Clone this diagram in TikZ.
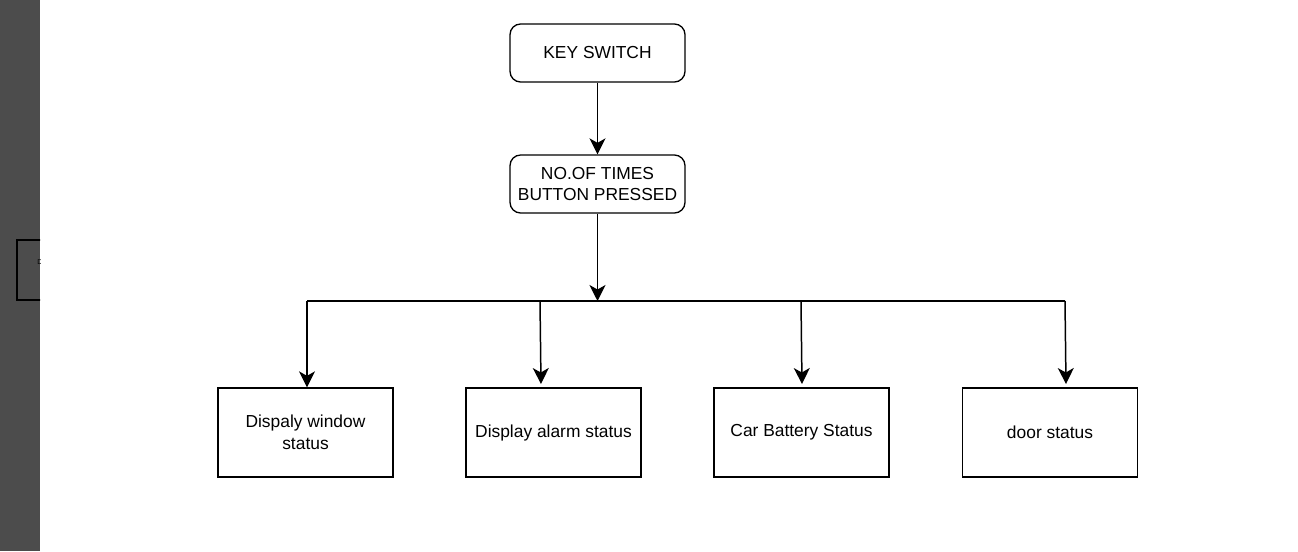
\documentclass[tikz,border=0pt]{standalone}
\usepackage{fontspec}
\setmainfont{Liberation Sans}
\usetikzlibrary{arrows.meta}

\begin{document}
\begin{tikzpicture}[x=0.02cm, y=-0.02cm,
    rbox/.style={draw, rounded corners=6pt, line width=0.75pt, minimum width=3.5cm, minimum height=1.16cm, align=center, font=\fontsize{9.9}{12.4}\selectfont},
    sbox/.style={draw, line width=0.75pt, minimum width=3.5cm, minimum height=1.78cm, align=center, font=\fontsize{9.9}{12.4}\selectfont},
    arr/.style={draw, line width=0.85pt, -{Stealth[length=3.2mm, width=3.2mm, inset=0.9mm]}}]
    \useasboundingbox (0,0) rectangle (1298,551);
    \fill[black!70] (0,0) rectangle (40,551);
    \begin{scope}
      \clip (0,0) rectangle (40,551);
      \draw[line width=0.75pt] (17,240) rectangle (70,300);
      \node[font=\fontsize{4}{4}\selectfont, inner sep=0pt] (dstub) at (40,262) {D};
    \end{scope}

    \node[rbox] (keysw) at (597.5,53) {KEY SWITCH};
    \node[rbox] (presses) at (597.5,184) {NO.OF TIMES\\BUTTON PRESSED};

    \node[sbox] (bwin) at (305.5,432.5) {Dispaly window\\status};
    \node[sbox] (balarm) at (553.5,432.5) {Display alarm status};
    \node[sbox] (bbatt) at (801.5,432.5) {Car Battery Status};
    \node[sbox] (bdoor) at (1050,432.5) {door status};

    \coordinate (busl) at (307,301);
    \coordinate (busr) at (1065,301);
    \coordinate (bmid) at (597.5,301);
    \coordinate (dwin) at (307,301);
    \coordinate (dalarm) at (540,301);
    \coordinate (dbatt) at (801,301);
    \coordinate (ddoor) at (1065,301);

    \draw[arr] (keysw) -- (presses);
    \draw[arr] (presses) -- (bmid);
    \draw[line width=0.85pt] (busl) -- (busr);

    \draw[arr] (dwin) -- (bwin.north -| dwin);
    \draw[arr] (dalarm) -- (541,384);
    \draw[arr] (dbatt) -- (802,384);
    \draw[arr] (ddoor) -- (1066,384);
\end{tikzpicture}
\end{document}
